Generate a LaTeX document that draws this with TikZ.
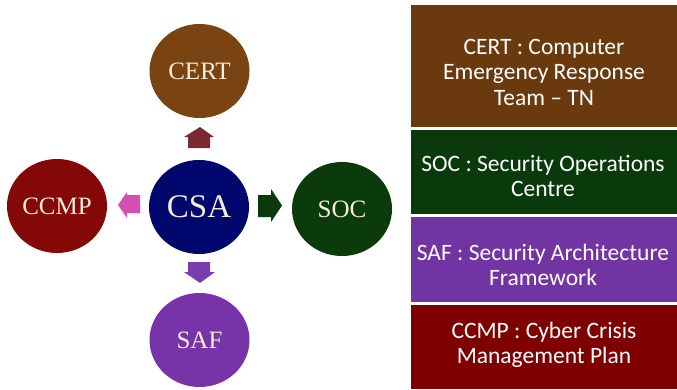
\documentclass[tikz,border=0pt]{standalone}
\usepackage{fontspec}
\setmainfont{Liberation Serif}
\newfontfamily\boxfont{Carlito}
\usetikzlibrary{shapes.geometric}
\definecolor{certc}{HTML}{7A4312}
\definecolor{certb}{HTML}{6A3A0E}
\definecolor{csac}{HTML}{00086E}
\definecolor{ccmpc}{HTML}{850808}
\definecolor{ccmpb}{HTML}{7F0000}
\definecolor{socc}{HTML}{0B3B0B}
\definecolor{socb}{HTML}{0A3A0B}
\definecolor{safc}{HTML}{7634A8}
\definecolor{safb}{HTML}{7334A3}
\definecolor{upar}{HTML}{7A2A30}
\definecolor{leftar}{HTML}{D54FB2}
\definecolor{rightar}{HTML}{0A3A0A}
\definecolor{downar}{HTML}{7A3DB0}
\definecolor{cream}{HTML}{F6EEDC}
\tikzset{
  circ/.style={ellipse, minimum width=100pt, minimum height=94pt, inner sep=0pt, text=cream, font=\fontsize{25}{27}\selectfont},
  paneltext/.style={text=white, align=center, font=\boxfont\fontsize{23.5}{25.5}\selectfont},
}
\begin{document}
\begin{tikzpicture}[x=1pt,y=1pt]
\useasboundingbox (0,0) rectangle (677,-389);
% circles
\node[circ, fill=certc] (cert) at (199.5,-71) {CERT};
\node[circ, fill=csac, font=\fontsize{33}{35}\selectfont] (csa) at (199,-207) {CSA};
\node[circ, fill=ccmpc] (ccmp) at (57,-206) {CCMP};
\node[circ, fill=socc] (soc) at (342,-209) {SOC};
\node[circ, fill=safc] (saf) at (199.5,-340) {SAF};
% block arrows
\coordinate (aup) at (199,-148);
\fill[upar] (aup) ++(-11,0) -- ++(0,11) -- ++(-4,0) -- (200,-127) -- (214,-137) -- ++(-4,0) -- ++(0,-11) -- cycle;
\coordinate (adown) at (199,-262);
\fill[downar] (adown) ++(-11,0) -- ++(0,-10) -- ++(-4,0) -- (200,-283) -- (215,-272) -- ++(-5,0) -- ++(0,10) -- cycle;
\coordinate (aright) at (258,-206);
\fill[rightar] (aright) ++(0,11) -- ++(13,0) -- ++(0,6) -- (282,-205.5) -- (271,-222) -- ++(0,5) -- ++(-13,0) -- cycle;
\coordinate (aleft) at (140,-204);
\fill[leftar] (aleft) ++(0,9) -- ++(-13,0) -- ++(0,3) -- (118,-205) -- (127,-218) -- ++(0,5) -- ++(13,0) -- cycle;
% panel boxes
\fill[certb] (411,-5) rectangle (677,-127);
\fill[socb] (411,-130) rectangle (677,-214);
\fill[safb] (411,-217) rectangle (677,-302);
\fill[ccmpb] (411,-305) rectangle (677,-389);
\node[paneltext] (tcert) at (544,-72) {CERT : Computer\\Emergency Response\\Team – TN};
\node[paneltext] (tsoc) at (543,-176) {SOC : Security Operations\\Centre};
\node[paneltext] (tsaf) at (543,-265) {SAF : Security Architecture\\Framework};
\node[paneltext] (tccmp) at (544,-345) {CCMP : Cyber Crisis\\Management Plan};
\end{tikzpicture}
\end{document}
